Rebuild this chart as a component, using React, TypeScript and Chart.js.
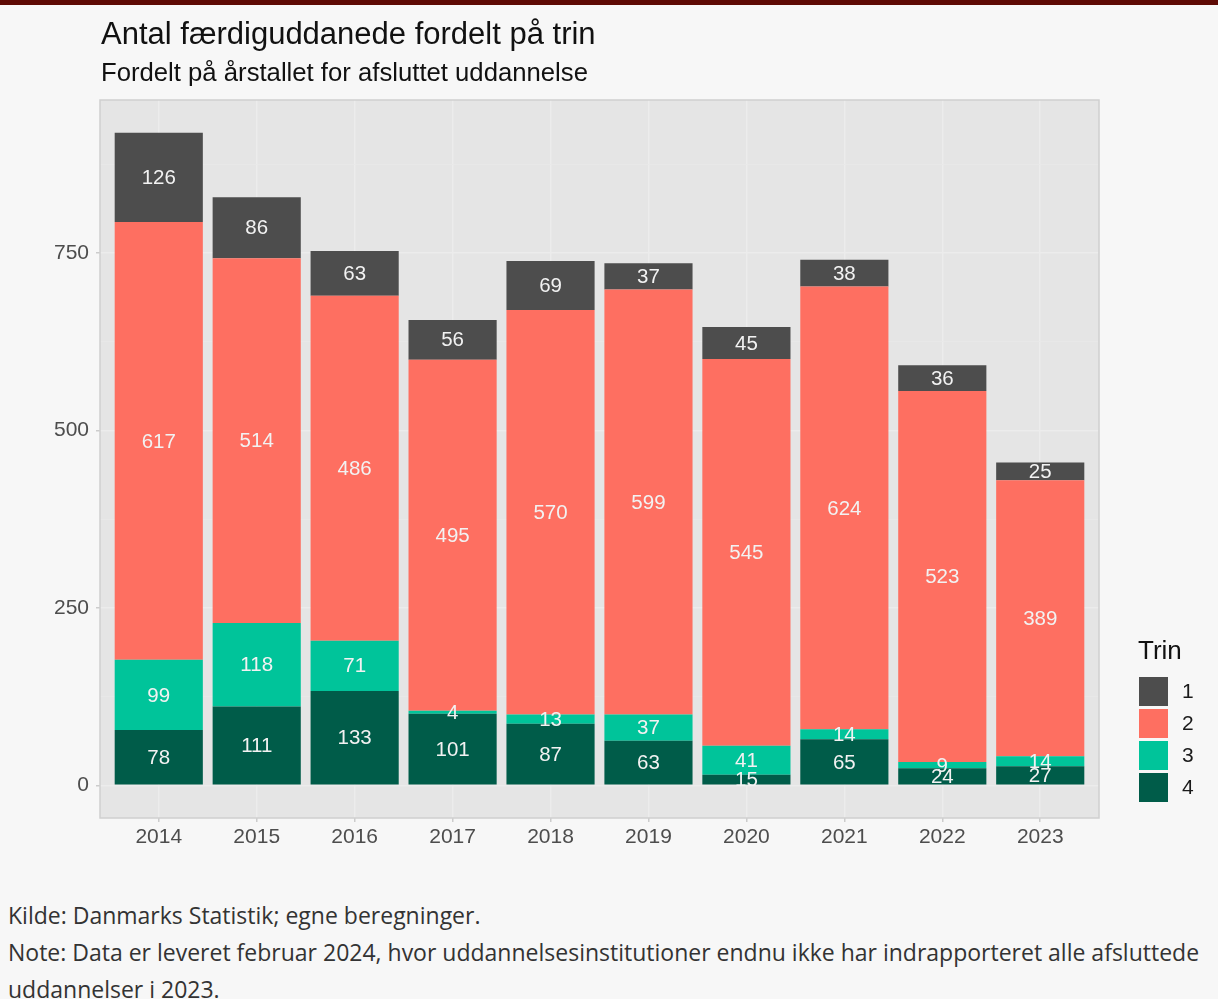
import React, { useEffect, useRef } from "react";
import { Chart, registerables } from "chart.js";

Chart.register(...registerables);

const years = ["2014", "2015", "2016", "2017", "2018", "2019", "2020", "2021", "2022", "2023"];
const trin1 = [126, 86, 63, 56, 69, 37, 45, 38, 36, 25];
const trin2 = [617, 514, 486, 495, 570, 599, 545, 624, 523, 389];
const trin3 = [99, 118, 71, 4, 13, 37, 41, 14, 9, 14];
const trin4 = [78, 111, 133, 101, 87, 63, 15, 65, 24, 27];
const yTicks = [0, 125, 250, 375, 500, 625, 750, 875];
const yTickLabels = ["0", "", "250", "", "500", "", "750", ""];
const legendLabels = ["1", "2", "3", "4"];

const titleText = "Antal færdiguddanede fordelt på trin";
const subtitleText = "Fordelt på årstallet for afsluttet uddannelse";
const legendTitle = "Trin";
const captionLines = [
  "Kilde: Danmarks Statistik; egne beregninger.",
  "Note: Data er leveret februar 2024, hvor uddannelsesinstitutioner endnu ikke har indrapporteret alle afsluttede",
  "uddannelser i 2023.",
];

const colors: Record<string, string> = {
  "1": "#4d4d4d",
  "2": "#fe6f61",
  "3": "#00c49a",
  "4": "#005c49",
};

const FONT = "'Liberation Sans', Arial, sans-serif";
const CANVAS_W = 1218;
const CANVAS_H = 870;

const toPoints = (arr: number[]) => arr.map((v, i) => ({ x: i, y: v }));

const panelPlugin = {
  id: "panelPlugin",
  beforeDraw(chart: any) {
    const { ctx, chartArea } = chart;
    ctx.save();
    ctx.fillStyle = "#e5e5e5";
    ctx.fillRect(chartArea.left, chartArea.top, chartArea.right - chartArea.left, chartArea.bottom - chartArea.top);
    ctx.restore();
  },
  afterDraw(chart: any) {
    const { ctx, chartArea } = chart;
    ctx.save();
    ctx.strokeStyle = "#cfcfcf";
    ctx.lineWidth = 1.5;
    ctx.strokeRect(chartArea.left, chartArea.top, chartArea.right - chartArea.left, chartArea.bottom - chartArea.top);
    ctx.fillStyle = "#111111";
    ctx.textAlign = "left";
    ctx.textBaseline = "middle";
    ctx.font = `31px ${FONT}`;
    ctx.fillText(titleText, chartArea.left + 1, 35);
    ctx.font = `25.7px ${FONT}`;
    ctx.fillText(subtitleText, chartArea.left + 1, 74);
    ctx.font = `26px ${FONT}`;
    ctx.fillStyle = "#111111";
    ctx.fillText(legendTitle, 1138, 652);
    const keyX = 1139;
    const keyY0 = 677;
    const keyStep = 32;
    const keySize = 29;
    ctx.font = `21px ${FONT}`;
    legendLabels.forEach((lab, i) => {
      const y = keyY0 + i * keyStep;
      ctx.fillStyle = colors[lab];
      ctx.fillRect(keyX, y, keySize, keySize);
      ctx.fillStyle = "#1a1a1a";
      ctx.fillText(lab, 1182, y + keySize / 2 + 1);
    });
    ctx.restore();
  },
  afterDatasetsDraw(chart: any) {
    const { ctx } = chart;
    ctx.save();
    ctx.font = `20.5px ${FONT}`;
    ctx.fillStyle = "#f2f2f2";
    ctx.textAlign = "center";
    ctx.textBaseline = "middle";
    chart.data.datasets.forEach((ds: any, di: number) => {
      const meta = chart.getDatasetMeta(di);
      meta.data.forEach((bar: any, i: number) => {
        const v = ds.data[i].y;
        const cy = (bar.y + bar.base) / 2;
        ctx.fillText(String(v), bar.x, cy + 1);
      });
    });
    ctx.restore();
  },
};

export default function App() {
  const canvasRef = useRef<HTMLCanvasElement | null>(null);

  useEffect(() => {
    document.body.style.margin = "0";
    document.body.style.background = "#f7f7f7";
    const canvas = canvasRef.current;
    if (!canvas) return;
    const chart = new Chart(canvas, {
      type: "bar",
      data: {
        datasets: [
          { label: "4", data: toPoints(trin4), backgroundColor: colors["4"] },
          { label: "3", data: toPoints(trin3), backgroundColor: colors["3"] },
          { label: "2", data: toPoints(trin2), backgroundColor: colors["2"] },
          { label: "1", data: toPoints(trin1), backgroundColor: colors["1"] },
        ],
      },
      options: {
        animation: false,
        responsive: false,
        devicePixelRatio: 1,
        barPercentage: 0.9,
        categoryPercentage: 1,
        layout: { padding: { left: 0, top: 100, right: 119, bottom: CANVAS_H - 818 - 40 } },
        plugins: {
          legend: { display: false },
          title: { display: false },
          tooltip: { enabled: false },
        },
        scales: {
          x: {
            type: "linear",
            stacked: true,
            offset: false,
            min: -0.6,
            max: years.length - 1 + 0.6,
            afterBuildTicks: (scale: any) => {
              scale.ticks = years.map((_, i) => ({ value: i }));
            },
            afterFit: (scale: any) => {
              scale.height = 40;
            },
            border: { display: false },
            grid: {
              offset: false,
              color: "#ececec",
              lineWidth: 1.5,
              drawTicks: true,
              tickLength: 4,
              tickColor: "#cccccc",
              tickWidth: 1.5,
            },
            ticks: {
              autoSkip: false,
              maxRotation: 0,
              padding: 3,
              color: "#4d4d4d",
              font: { family: FONT, size: 21 },
              callback: (value: any) => years[Math.round(Number(value))] ?? "",
            },
          },
          y: {
            type: "linear",
            stacked: true,
            min: -46,
            max: 966,
            afterBuildTicks: (scale: any) => {
              scale.ticks = yTicks.map((v) => ({ value: v }));
            },
            afterFit: (scale: any) => {
              scale.width = 100;
            },
            border: { display: false },
            grid: {
              color: (c: any) => (yTicks.indexOf(c.tick?.value) % 2 === 0 ? "#ececec" : "#e9e9e9"),
              lineWidth: (c: any) => (yTicks.indexOf(c.tick?.value) % 2 === 0 ? 1.5 : 0.8),
              drawTicks: true,
              tickLength: 4,
              tickColor: (c: any) => (yTicks.indexOf(c.tick?.value) % 2 === 0 ? "#cccccc" : "rgba(0,0,0,0)"),
              tickWidth: 1.5,
            },
            ticks: {
              padding: 7,
              color: "#4d4d4d",
              font: { family: FONT, size: 21 },
              callback: (value: any) => {
                const idx = yTicks.indexOf(Number(value));
                return idx >= 0 ? yTickLabels[idx] : "";
              },
            },
          },
        },
      } as any,
      plugins: [panelPlugin],
    });
    return () => chart.destroy();
  }, []);

  return (
    <div
      style={{
        position: "relative",
        width: CANVAS_W,
        height: 999,
        background: "#f7f7f7",
        overflow: "hidden",
      }}
    >
      <div style={{ position: "absolute", left: 0, top: 0, width: CANVAS_W, height: 5, background: "#5e0a04" }} />
      <canvas
        ref={canvasRef}
        width={CANVAS_W}
        height={CANVAS_H}
        style={{ position: "absolute", left: 0, top: 0, width: CANVAS_W, height: CANVAS_H }}
      />
      {captionLines.map((line, i) => (
        <div
          key={i}
          style={{
            position: "absolute",
            left: 8,
            top: 915 + i * 37 - 16,
            height: 32,
            lineHeight: "32px",
            fontFamily: "'Open Sans', sans-serif",
            fontSize: 23,
            color: "#333333",
            whiteSpace: "nowrap",
          }}
        >
          {line}
        </div>
      ))}
    </div>
  );
}
